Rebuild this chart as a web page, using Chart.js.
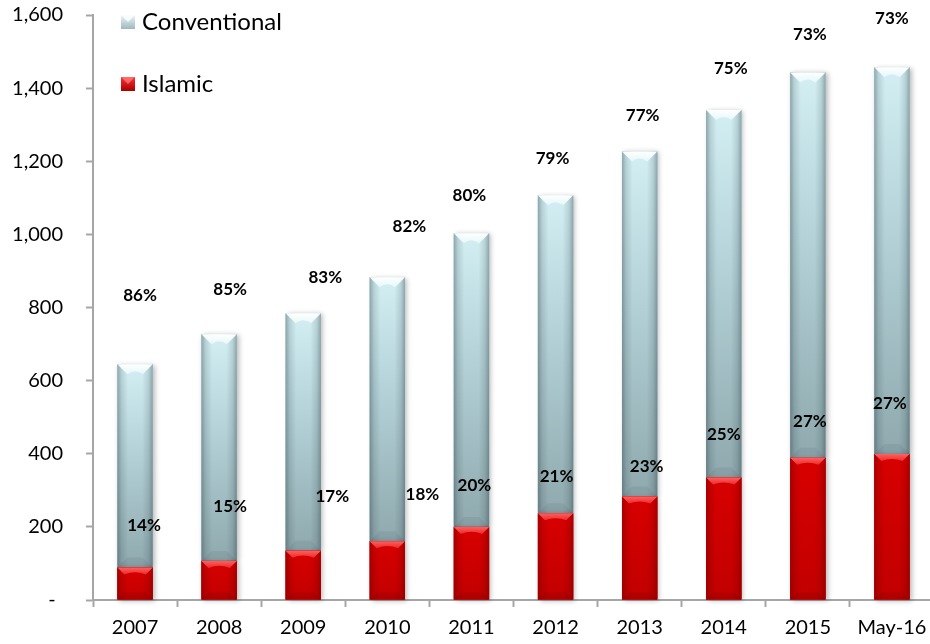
<!DOCTYPE html>
<html>
<head>
<meta charset="utf-8">
<script src="https://cdn.jsdelivr.net/npm/chart.js@4/dist/chart.umd.min.js"></script>
<style>
  body { margin: 0; background: #fff; overflow: hidden; }
  #wrap { width: 940px; height: 644px; }
</style>
</head>
<body>
<div id="wrap"><canvas id="chart" width="940" height="644"></canvas></div>
<script>
// assets by type (bn), end of period
const years = ['2007', '2008', '2009', '2010', '2011', '2012', '2013', '2014', '2015', 'May-16'];
const islamic = [89, 107, 135, 161, 200, 237, 283, 335, 389, 399];
const conventional = [556, 620, 649, 722, 803, 870, 944, 1005, 1054, 1058];
const yTicks = [0, 200, 400, 600, 800, 1000, 1200, 1400, 1600];

// where the share labels sit next to each bar (px)
const convLabelDx = [5, 11, 22, 22, -2, -3, 3, 7, 2, 0];
const convLabelDy = [-69, -45, -36, -51, -38, -37, -36, -42, -38, -49];
const islLabelDx = [9, 11, 29, 35, 3, 1, 7, 0, 2, -2];
const islLabelDy = [-42, -54, -54, -47, -41, -37, -30, -43, -36, -51];

const FONT = 'Lato, "Open Sans", sans-serif';
const axisGray = '#a6a6a6';

// fills for one bar segment, with the bevel on top
const paintBar = (ctx, l, t, r, b, kind) => {
  const w = r - l;
  const h = b - t;
  if (h <= 0) return;
  const conv = kind === 'conv';
  ctx.save();
  // soft shadow on the right
  ctx.shadowColor = 'rgba(0,0,0,0.28)';
  ctx.shadowBlur = 5;
  ctx.shadowOffsetX = 2;
  ctx.shadowOffsetY = 1;
  ctx.fillStyle = conv ? '#b0ccd1' : '#cc0000';
  ctx.fillRect(l, t, w, h);
  ctx.restore();

  ctx.save();
  let g = ctx.createLinearGradient(0, t, 0, b);
  if (conv) {
    g.addColorStop(0, '#d3eff4');
    g.addColorStop(0.45, '#b2d0d6');
    g.addColorStop(1, '#8fa9ae');
  } else {
    g.addColorStop(0, '#d80000');
    g.addColorStop(1, '#c20000');
  }
  ctx.fillStyle = g;
  ctx.fillRect(l, t, w, h);

  // darker edges left and right
  g = ctx.createLinearGradient(l, 0, r, 0);
  const edge = conv ? '40,60,65' : '90,0,0';
  g.addColorStop(0, `rgba(${edge},0.4)`);
  g.addColorStop(0.12, `rgba(${edge},0.15)`);
  g.addColorStop(0.3, `rgba(${edge},0)`);
  g.addColorStop(0.7, `rgba(${edge},0)`);
  g.addColorStop(0.88, `rgba(${edge},0.15)`);
  g.addColorStop(1, `rgba(${edge},0.4)`);
  ctx.fillStyle = g;
  ctx.fillRect(l, t, w, h);

  // bevel on top
  const bh = Math.min(conv ? 10 : 7, h / 2);
  g = ctx.createLinearGradient(0, t, 0, t + bh);
  if (conv) {
    g.addColorStop(0, '#ffffff');
    g.addColorStop(1, '#e6f7f9');
  } else {
    g.addColorStop(0, '#ff6060');
    g.addColorStop(1, '#ec2a2a');
  }
  ctx.fillStyle = g;
  ctx.beginPath();
  ctx.moveTo(l, t);
  ctx.lineTo(r, t);
  ctx.lineTo(r - bh, t + bh);
  ctx.quadraticCurveTo((l + r) / 2, t + bh * 0.4, l + bh, t + bh);
  ctx.closePath();
  ctx.fill();

  // a touch of shade at the bottom
  ctx.fillStyle = conv ? 'rgba(60,80,85,0.10)' : 'rgba(60,0,0,0.12)';
  ctx.beginPath();
  ctx.moveTo(l, b);
  ctx.lineTo(r, b);
  ctx.lineTo(r - bh, b - bh);
  ctx.lineTo(l + bh, b - bh);
  ctx.closePath();
  ctx.fill();
  ctx.restore();
};

const barLook = {
  id: 'barLook',
  afterDatasetsDraw(chart) {
    const ctx = chart.ctx;
    const metaIsl = chart.getDatasetMeta(0);
    const metaConv = chart.getDatasetMeta(1);
    // conventional first so the red shadow is not covered
    metaConv.data.forEach(el => {
      const p = el.getProps(['x', 'y', 'base', 'width'], true);
      paintBar(ctx, p.x - p.width / 2, p.y, p.x + p.width / 2, p.base, 'conv');
    });
    metaIsl.data.forEach(el => {
      const p = el.getProps(['x', 'y', 'base', 'width'], true);
      paintBar(ctx, p.x - p.width / 2, p.y, p.x + p.width / 2, p.base, 'isl');
    });

    // share labels
    ctx.save();
    ctx.font = `bold 17px ${FONT}`;
    ctx.fillStyle = '#000';
    ctx.textAlign = 'center';
    ctx.textBaseline = 'middle';
    years.forEach((yr, i) => {
      const total = islamic[i] + conventional[i];
      const islShare = Math.round(islamic[i] / total * 100);
      const convShare = Math.round(conventional[i] / total * 100);
      const c = metaConv.data[i].getProps(['x', 'y'], true);
      const s = metaIsl.data[i].getProps(['x', 'y'], true);
      ctx.fillText(convShare + '%', c.x + convLabelDx[i], c.y + convLabelDy[i]);
      ctx.fillText(islShare + '%', s.x + islLabelDx[i], s.y + islLabelDy[i]);
    });
    ctx.restore();
  }
};

// legend in the top left corner, conventional listed first
const cornerLegend = {
  id: 'cornerLegend',
  afterDraw(chart) {
    const ctx = chart.ctx;
    const items = [chart.data.datasets[1], chart.data.datasets[0]];
    items.forEach((ds, i) => {
      const cy = 22 + i * 62;
      const l = 121, t = cy - 7;
      ctx.save();
      let g = ctx.createLinearGradient(0, t, 0, t + 14);
      if (i === 0) {
        g.addColorStop(0, '#eaf6f8');
        g.addColorStop(1, '#9fb8bd');
      } else {
        g.addColorStop(0, '#ff3030');
        g.addColorStop(1, '#a80000');
      }
      ctx.fillStyle = g;
      ctx.fillRect(l, t, 14, 14);
      ctx.fillStyle = i === 0 ? 'rgba(255,255,255,0.8)' : 'rgba(255,120,120,0.8)';
      ctx.beginPath();
      ctx.moveTo(l, t);
      ctx.lineTo(l + 14, t);
      ctx.lineTo(l + 7, t + 7);
      ctx.closePath();
      ctx.fill();
      ctx.font = `24px ${FONT}`;
      ctx.fillStyle = '#000';
      ctx.textAlign = 'left';
      ctx.textBaseline = 'middle';
      ctx.fillText(ds.label, 142, cy);
      ctx.restore();
    });
  }
};

// the zero tick shows as a dash, set a bit left of the other labels
const zeroDash = {
  id: 'zeroDash',
  afterDraw(chart) {
    const y = chart.scales.y;
    const ctx = chart.ctx;
    ctx.save();
    ctx.font = `20px ${FONT}`;
    ctx.fillStyle = '#000';
    ctx.textAlign = 'center';
    ctx.textBaseline = 'middle';
    ctx.fillText('-', y.left + 40, y.getPixelForValue(0));
    ctx.restore();
  }
};

const chart = new Chart(document.getElementById('chart'), {
  type: 'bar',
  data: {
    labels: years,
    datasets: [
      { label: 'Islamic', data: islamic, backgroundColor: '#cc0000', borderWidth: 0 },
      { label: 'Conventional', data: conventional, backgroundColor: '#b0ccd1', borderWidth: 0 }
    ]
  },
  options: {
    responsive: false,
    animation: false,
    barPercentage: 0.84,
    categoryPercentage: 0.5,
    layout: { autoPadding: false, padding: { left: 12, top: 15, right: 6, bottom: 2 } },
    plugins: {
      legend: { display: false },
      tooltip: { enabled: false }
    },
    scales: {
      x: {
        stacked: true,
        afterFit: s => { s.height = 42; s.paddingLeft = 0; s.paddingRight = 0; },
        border: { color: axisGray, width: 2 },
        grid: { offset: true, drawOnChartArea: false, color: axisGray, tickLength: 7, tickWidth: 2 },
        ticks: { color: '#000', font: { family: FONT, size: 20 }, padding: 9, maxRotation: 0 }
      },
      y: {
        stacked: true,
        min: 0,
        max: 1600,
        afterBuildTicks: axis => { axis.ticks = yTicks.map(v => ({ value: v })); },
        afterFit: s => { s.width = 81; s.paddingTop = 0; s.paddingBottom = 0; },
        border: { color: axisGray, width: 2 },
        grid: { drawOnChartArea: false, color: axisGray, tickLength: 7, tickWidth: 2 },
        ticks: {
          color: '#000',
          font: { family: FONT, size: 20 },
          padding: 23,
          callback: v => v === 0 ? '' : v.toLocaleString('en-US')
        }
      }
    }
  },
  plugins: [barLook, cornerLegend, zeroDash]
});
</script>
</body>
</html>
